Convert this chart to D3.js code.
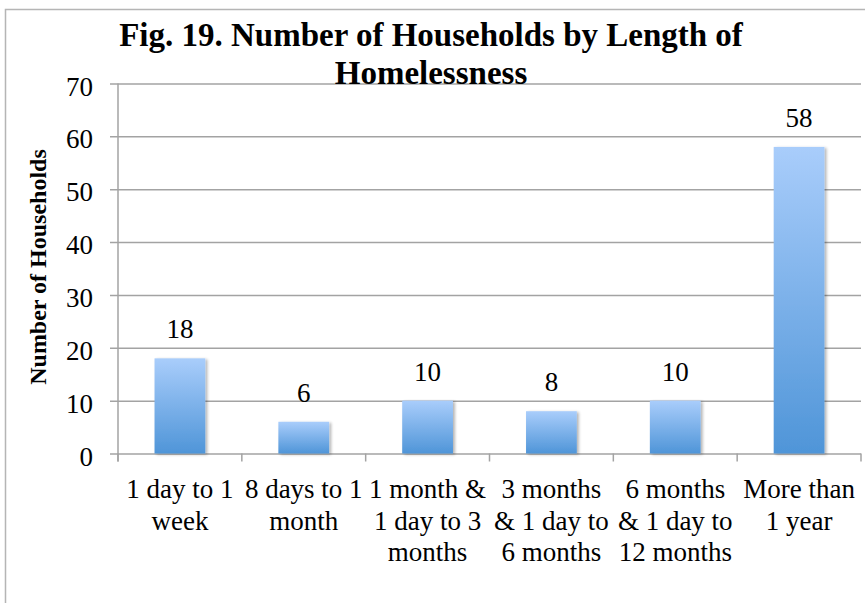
<!DOCTYPE html>
<html>
<head>
<meta charset="utf-8">
<script src="https://cdn.jsdelivr.net/npm/d3@7/dist/d3.min.js"></script>
<style>
  html, body { margin: 0; padding: 0; background: #fff; }
  svg { display: block; }
  text { font-family: "Liberation Serif", "Times New Roman", serif; fill: #000; }
</style>
</head>
<body>
<svg id="chart" width="865" height="603"></svg>
<script>
// ---- data ----
const categories = [
  "1 day to 1 week",
  "8 days to 1 month",
  "1 month & 1 day to 3 months",
  "3 months & 1 day to 6 months",
  "6 months & 1 day to 12 months",
  "More than 1 year"
];
const categoryLines = [
  ["1 day to 1", "week"],
  ["8 days to 1", "month"],
  ["1 month &", "1 day to 3", "months"],
  ["3 months", "& 1 day to", "6 months"],
  ["6 months", "& 1 day to", "12 months"],
  ["More than", "1 year"]
];
const households = [18, 6, 10, 8, 10, 58];
const yTicks = [0, 10, 20, 30, 40, 50, 60, 70];
const titleLines = ["Fig. 19. Number of Households by Length of", "Homelessness"];
const yAxisTitle = "Number of Households";

// ---- layout ----
const plot = { left: 118, right: 861, top: 83.5, bottom: 453.5 };
const grid = "#a3a3a3";

const svg = d3.select("#chart");

// outer frame
svg.append("rect")
  .attr("x", 5.5).attr("y", 9.5)
  .attr("width", 880).attr("height", 620)
  .attr("fill", "#fff")
  .attr("stroke", "#b5b5b5").attr("stroke-width", 1.5);

const x = d3.scaleBand().domain(categories).range([plot.left, plot.right]).paddingInner(0.59).paddingOuter(0.295);
const xTickScale = d3.scaleBand().domain(categories).range([plot.left, plot.right]).padding(0);
const y = d3.scaleLinear().domain([0, 70]).range([plot.bottom, plot.top]);

// gradient + shadow
const defs = svg.append("defs");
const grad = defs.append("linearGradient").attr("id", "barGrad")
  .attr("x1", 0).attr("y1", 0).attr("x2", 0).attr("y2", 1);
grad.append("stop").attr("offset", "0%").attr("stop-color", "#a9cdfb");
grad.append("stop").attr("offset", "100%").attr("stop-color", "#4f95d8");
const shadow = defs.append("filter").attr("id", "shadow")
  .attr("x", "-20%").attr("y", "-20%").attr("width", "150%").attr("height", "140%");
shadow.append("feGaussianBlur").attr("in", "SourceAlpha").attr("stdDeviation", 1.5).attr("result", "b");
shadow.append("feOffset").attr("in", "b").attr("dx", 2).attr("dy", 1).attr("result", "o");
shadow.append("feComponentTransfer").attr("in", "o").attr("result", "s")
  .append("feFuncA").attr("type", "linear").attr("slope", 0.3);
const fm = shadow.append("feMerge");
fm.append("feMergeNode").attr("in", "s");
fm.append("feMergeNode").attr("in", "SourceGraphic");

// gridlines
const gy = svg.append("g").attr("transform", `translate(${plot.right},0)`);
gy.call(d3.axisLeft(y).tickValues(yTicks).tickSize(plot.right - plot.left + 8).tickFormat(""));
gy.select(".domain").remove();
gy.selectAll(".tick line").attr("stroke", grid).attr("stroke-width", 1.5);

// y axis line
svg.append("line")
  .attr("x1", plot.left).attr("x2", plot.left)
  .attr("y1", y(70)).attr("y2", plot.bottom + 8)
  .attr("stroke", grid).attr("stroke-width", 1.5);

// y tick labels
svg.append("g").selectAll("text").data(yTicks).join("text")
  .attr("x", 93).attr("y", d => y(d) + 12)
  .attr("text-anchor", "end")
  .attr("font-size", 27)
  .text(d => d);

// x ticks
const gx = svg.append("g").attr("transform", `translate(0,${plot.bottom})`);
const tickPositions = categories.map(c => xTickScale(c)).concat([plot.right]);
gx.selectAll("line").data(tickPositions).join("line")
  .attr("x1", d => d).attr("x2", d => d)
  .attr("y1", 0).attr("y2", 8)
  .attr("stroke", grid).attr("stroke-width", 1.5);

// bars
svg.append("g").selectAll("rect").data(households).join("rect")
  .attr("x", (d, i) => x(categories[i]))
  .attr("y", d => y(d))
  .attr("width", x.bandwidth())
  .attr("height", d => y(0) - y(d))
  .attr("fill", "url(#barGrad)")
  .attr("filter", "url(#shadow)");

// value labels
svg.append("g").selectAll("text").data(households).join("text")
  .attr("x", (d, i) => x(categories[i]) + x.bandwidth() / 2)
  .attr("y", d => y(d) - 20)
  .attr("text-anchor", "middle")
  .attr("font-size", 27)
  .text(d => d);

// x labels
const xl = svg.append("g").selectAll("text").data(categoryLines).join("text")
  .attr("text-anchor", "middle")
  .attr("font-size", 27)
  .attr("transform", (d, i) => `translate(${xTickScale(categories[i]) + xTickScale.bandwidth() / 2},498)`);
xl.selectAll("tspan").data(d => d).join("tspan")
  .attr("x", 0).attr("y", (d, j) => j * 31.5)
  .text(d => d);

// title
svg.append("g").selectAll("text").data(titleLines).join("text")
  .attr("x", 431).attr("y", (d, i) => 46 + i * 38)
  .attr("text-anchor", "middle")
  .attr("font-size", 33).attr("font-weight", "bold")
  .text(d => d);

// y axis title
svg.append("text")
  .attr("transform", "translate(46,267) rotate(-90)")
  .attr("text-anchor", "middle")
  .attr("font-size", 24).attr("font-weight", "bold")
  .text(yAxisTitle);
</script>
</body>
</html>
